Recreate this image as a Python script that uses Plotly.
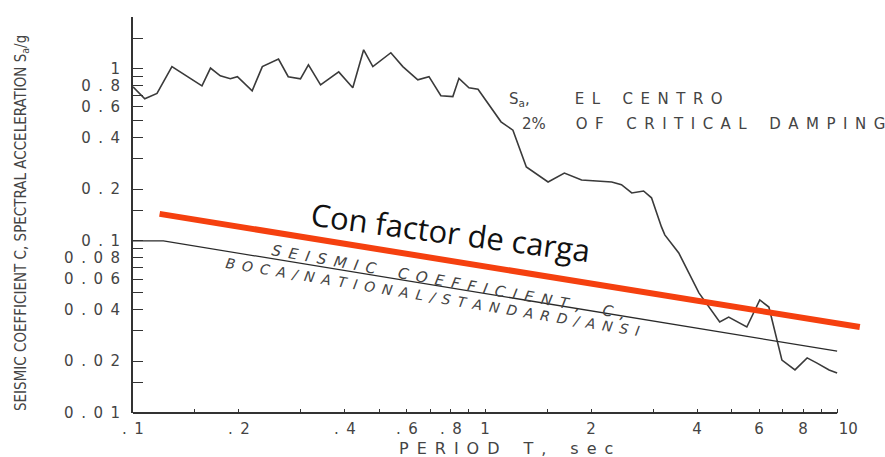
import plotly.graph_objects as go

# El Centro response spectrum, 2% of critical damping
period = [0.100, 0.108, 0.117, 0.129, 0.157, 0.166, 0.177, 0.189, 0.198, 0.218,
          0.233, 0.259, 0.276, 0.299, 0.315, 0.341, 0.384, 0.421, 0.452, 0.480,
          0.540, 0.584, 0.644, 0.693, 0.749, 0.810, 0.843, 0.900, 0.955, 1.11,
          1.20, 1.31, 1.51, 1.68, 1.88, 2.29, 2.44, 2.61, 2.82, 2.97,
          3.17, 3.24, 3.55, 4.05, 4.64, 4.92, 5.54, 6.03, 6.40, 6.97,
          7.59, 8.22, 8.77, 9.49, 10.0]
sa_g = [0.785, 0.67, 0.72, 1.03, 0.796, 1.01, 0.91, 0.875, 0.90, 0.745,
        1.03, 1.14, 0.90, 0.875, 1.055, 0.807, 0.96, 0.776, 1.29, 1.03,
        1.24, 1.03, 0.863, 0.90, 0.697, 0.69, 0.88, 0.776, 0.76, 0.492,
        0.44, 0.269, 0.220, 0.248, 0.226, 0.220, 0.212, 0.190, 0.195, 0.178,
        0.1206, 0.1084, 0.0851, 0.0499, 0.0338, 0.0361, 0.0316, 0.0454, 0.0413, 0.0203,
        0.0178, 0.0209, 0.0195, 0.0178, 0.0171]

# Code seismic coefficient C (BOCA / National / Standard / ANSI)
code_period = [0.1, 0.122, 10.0]
code_c = [0.1, 0.1, 0.0229]

# Seismic coefficient with load factor
factored_period = [0.119, 11.6]
factored_c = [0.1436, 0.0316]

# Axis ticks: labelled (major) and plain (minor)
x_major = [0.1, 0.2, 0.4, 0.6, 0.8, 1, 2, 4, 6, 8, 10]
x_major_text = [".1", ".2", ".4", ".6", ".8", "1", "2", "4", "6", "8", "10"]
x_minor = [0.15, 0.3, 0.5, 0.7, 0.9, 1.5, 3, 5, 7, 9]
y_major = [0.01, 0.02, 0.04, 0.06, 0.08, 0.1, 0.2, 0.4, 0.6, 0.8, 1]
y_major_text = ["0.01", "0.02", "0.04", "0.06", "0.08", "0.1", "0.2", "0.4", "0.6", "0.8", "1"]
y_minor = [0.015, 0.03, 0.05, 0.07, 0.09, 0.15, 0.3, 0.5, 0.7, 0.9, 1.5, 2]

LETTER = "DejaVu Sans, Verdana, sans-serif"
NARROW = "DejaVu Sans Condensed, Liberation Sans Narrow, Roboto Condensed, Roboto, sans-serif"
INK = "#333333"
LABEL = "#444444"
EN = "\u2002"


def spaced(s):
    """Wide-set drafting lettering: an en space after every character."""
    return EN.join(EN if ch == " " else ch for ch in s)


x_ticktext = [spaced(t) for t in x_major_text]
x_ticktext[-1] = EN * 3 + x_major_text[-1]
y_ticktext = [spaced(t) for t in y_major_text]

W, H = 885, 457
L, R, T, B = 133, 20, 17, 44


def px(xp):
    return (xp - L) / (W - L - R)


def py(yp):
    return (H - B - yp) / (H - T - B)


fig = go.Figure()

fig.add_trace(go.Scatter(
    x=period, y=sa_g, mode="lines",
    line=dict(color="#3a3a3a", width=1.6),
    hoverinfo="skip", showlegend=False))

fig.add_trace(go.Scatter(
    x=code_period, y=code_c, mode="lines",
    line=dict(color="#2a2a2a", width=1.3),
    hoverinfo="skip", showlegend=False))

fig.add_trace(go.Scatter(
    x=factored_period, y=factored_c, mode="lines",
    line=dict(color="#F5400F", width=6),
    hoverinfo="skip", showlegend=False))

# bottom axis line, drawn only across the labelled period range
fig.add_shape(type="line", xref="x", yref="paper",
              x0=x_major[0], x1=x_major[-1], y0=0, y1=0,
              line=dict(color=INK, width=2))

annotations = [
    dict(text="SEISMIC COEFFICIENT C, SPECTRAL ACCELERATION S<sub>a</sub>/g",
         x=px(21), y=py(223), textangle=-90,
         font=dict(family=NARROW, size=15, color="#444444")),
    dict(text=spaced("PERIOD T, sec"), x=px(506), y=py(449),
         font=dict(family=LETTER, size=16, color=LABEL)),
    dict(text="S<sub>a</sub>," + EN * 6 + spaced("EL CENTRO"),
         x=px(507), y=py(100), xanchor="left",
         font=dict(family=LETTER, size=15, color=LABEL)),
    dict(text="2%" + EN * 4 + spaced("OF CRITICAL DAMPING"),
         x=px(520), y=py(124), xanchor="left",
         font=dict(family=LETTER, size=15, color=LABEL)),
    dict(text="Con factor de carga", x=px(450), y=py(232), textangle=7.5,
         font=dict(family="Open Sans, Noto Sans, sans-serif", size=31, color="#111111")),
    dict(text=spaced("SEISMIC COEFFICIENT, C,"), x=px(448), y=py(282), textangle=10.3,
         font=dict(family=LETTER, size=15, color="#444444", style="italic")),
    dict(text=spaced("BOCA/NATIONAL/STANDARD/ANSI"), x=px(432), y=py(297), textangle=9.4,
         font=dict(family=LETTER, size=14, color="#444444", style="italic")),
]
for a in annotations:
    a.setdefault("xanchor", "center")
    a.setdefault("yanchor", "middle")
    a.update(xref="paper", yref="paper", showarrow=False)

fig.update_layout(
    width=W, height=H,
    margin=dict(l=L, r=R, t=T, b=B),
    paper_bgcolor="white", plot_bgcolor="white",
    showlegend=False,
    annotations=annotations,
    xaxis=dict(
        type="log", range=[-1, 1.0792],
        tickmode="array", tickvals=x_major, ticktext=x_ticktext,
        ticks="inside", ticklen=4, tickwidth=1.4, tickcolor=INK,
        minor=dict(tickmode="array", tickvals=x_minor, ticks="inside",
                   ticklen=4, tickwidth=1.4, tickcolor=INK, showgrid=False),
        showline=False, showgrid=False, zeroline=False,
        tickfont=dict(family=LETTER, size=15, color=LABEL),
        ticklabelstandoff=5,
    ),
    yaxis=dict(
        type="log", range=[-2, 0.30103],
        tickmode="array", tickvals=y_major, ticktext=y_ticktext,
        ticks="inside", ticklen=10, tickwidth=1.4, tickcolor=INK,
        minor=dict(tickmode="array", tickvals=y_minor, ticks="inside",
                   ticklen=10, tickwidth=1.4, tickcolor=INK, showgrid=False),
        showline=True, linecolor=INK, linewidth=2,
        showgrid=False, zeroline=False,
        tickfont=dict(family=LETTER, size=15, color=LABEL),
        ticklabelstandoff=8,
    ),
)

fig.write_html("out.html")
